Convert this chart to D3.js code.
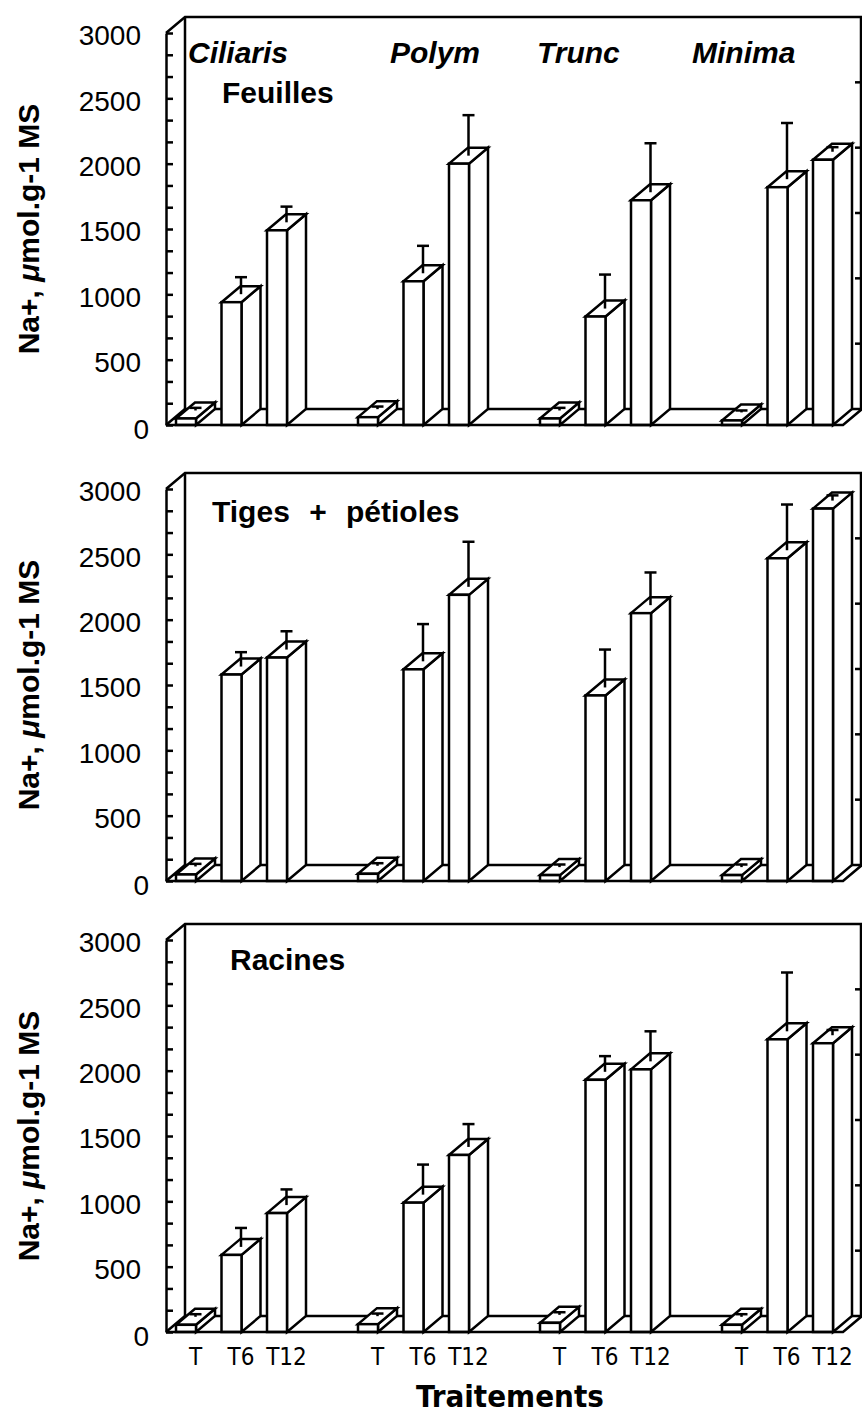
<!DOCTYPE html>
<html>
<head>
<meta charset="utf-8">
<script src="https://cdn.jsdelivr.net/npm/d3@7"></script>
<style>
  body { margin: 0; background: #fff; }
  svg { display: block; }
  .axis path, .axis line { stroke: #000; stroke-width: 2.5; }
  .axis text { font-family: "Liberation Sans", Arial, sans-serif; font-size: 28px; fill: #000; }
  .frame { stroke: #000; stroke-width: 2.5; fill: none; }
  .bar { stroke: #000; stroke-width: 2.5; fill: #fff; stroke-linejoin: miter; }
  .err { stroke: #000; stroke-width: 2.5; }
</style>
</head>
<body>
<script>
var species = ['Ciliaris', 'Polym', 'Trunc', 'Minima']
var treatments = ['T', 'T6', 'T12']
var organs = ['Feuilles', 'Tiges + pétioles', 'Racines']

// Na+ (µmol/g MS), one row per species, columns T, T6, T12
var feuillesMean = [[50, 940, 1490], [60, 1100, 2000], [50, 830, 1720], [35, 1820, 2030]]
var feuillesErr  = [[20, 130, 120], [20, 210, 310], [20, 260, 375], [15, 430, 35]]

var tigesMean = [[50, 1580, 1710], [55, 1620, 2190], [45, 1420, 2050], [45, 2470, 2850]]
var tigesErr  = [[20, 110, 140], [20, 285, 345], [20, 290, 250], [20, 350, 40]]

var racinesMean = [[55, 590, 910], [60, 990, 1355], [70, 1930, 2010], [55, 2240, 2210]]
var racinesErr  = [[20, 145, 120], [20, 230, 175], [20, 120, 230], [20, 450, 40]]

var yTicks = [0, 500, 1000, 1500, 2000, 2500, 3000]
var speciesLabelX = [188, 390, 537, 692]

var width = 862, height = 1422
var bases = [425, 881, 1332]
var plotH = 392
var dx = 19, dy = 16
var barW = 20
var axisX = 166, rightX = 862

var meansByOrgan = [feuillesMean, tigesMean, racinesMean]
var errByOrgan = [feuillesErr, tigesErr, racinesErr]

var svg = d3.select('body')
    .append('svg')
    .attr('width', width)
    .attr('height', height)

var x0 = d3.scaleBand()
    .domain(species)
    .range([176, 176 + 4 * 182])

var x1 = d3.scaleBand()
    .domain(treatments)
    .range([0, 136.5])

organs.forEach(function (organ, i) {
    var base = bases[i]
    var y = d3.scaleLinear()
        .domain([0, 3000])
        .range([base, base - plotH])

    var g = svg.append('g')

    // back walls + floor
    var top = y(3000)
    g.append('path').attr('class', 'frame')
        .attr('d', 'M' + axisX + ',' + top + 'L' + (axisX + dx) + ',' + (top - dy) +
              'L' + rightX + ',' + (top - dy))
    g.append('path').attr('class', 'frame')
        .attr('d', 'M' + (axisX + dx) + ',' + (top - dy) + 'L' + (axisX + dx) + ',' + (base - dy) +
              'L' + rightX + ',' + (base - dy))
    g.append('path').attr('class', 'frame')
        .attr('d', 'M' + axisX + ',' + base + 'L' + (axisX + dx) + ',' + (base - dy))
    g.append('path').attr('class', 'frame')
        .attr('d', 'M' + (rightX - 1) + ',' + (base - dy) + 'L' + (rightX - 1) + ',' + (top - dy))

    // ticks on the right back edge
    yTicks.slice(1, 6).forEach(function (v) {
        g.append('line').attr('class', 'frame')
            .attr('x1', rightX - 7).attr('x2', rightX)
            .attr('y1', y(v) - dy).attr('y2', y(v) - dy)
    })

    var bars = []
    species.forEach(function (s, si) {
        treatments.forEach(function (t, ti) {
            bars.push({ s: s, t: t, v: meansByOrgan[i][si][ti], e: errByOrgan[i][si][ti] })
        })
    })

    var bar = g.selectAll('g.b')
        .data(bars)
        .enter().append('g')
        .attr('class', 'b')

    bar.each(function (d) {
        var b = d3.select(this)
        var xl = x0(d.s) + x1(d.t), xr = xl + barW
        var yt = y(d.v), yb = y(0)
        b.append('polygon').attr('class', 'bar')
            .attr('points', [[xr, yb], [xr + dx, yb - dy], [xr + dx, yt - dy], [xr, yt]].join(' '))
        b.append('polygon').attr('class', 'bar')
            .attr('points', [[xl, yt], [xl + dx, yt - dy], [xr + dx, yt - dy], [xr, yt]].join(' '))
        b.append('rect').attr('class', 'bar')
            .attr('x', xl).attr('y', yt)
            .attr('width', barW).attr('height', yb - yt)

        var cx = xl + barW / 2 + dx / 2
        var cy = yt - dy / 2
        var ey = y(d.v + d.e) - dy / 2
        b.append('line').attr('class', 'err')
            .attr('x1', cx).attr('x2', cx).attr('y1', cy).attr('y2', ey)
        b.append('line').attr('class', 'err')
            .attr('x1', cx - 6).attr('x2', cx + 6).attr('y1', ey).attr('y2', ey)
    })

    // front floor edge
    g.append('path').attr('class', 'frame')
        .attr('d', 'M' + axisX + ',' + base + 'L' + (rightX - dx) + ',' + base +
              'L' + rightX + ',' + (base - dy))

    // front value axis, ticks pointing inwards
    var axis = d3.axisLeft(y)
        .tickValues(d3.range(0, 19).map(function (k) { return k * 500 / 3 }))
        .tickSizeInner(-7)
        .tickSizeOuter(0)
        .tickPadding(25)
        .tickFormat(function (d) { return yTicks.indexOf(d) >= 0 ? d3.format('d')(d) : '' })

    g.append('g')
        .attr('class', 'axis')
        .attr('transform', 'translate(' + axisX + ',0)')
        .call(axis)
        .selectAll('text')
        .attr('transform', function (d) { return d === 0 ? 'translate(8,5)' : 'translate(0,3)' })

    // y title
    var title = g.append('text')
        .attr('transform', 'translate(39,' + (base - 196) + ') rotate(-90)')
        .attr('text-anchor', 'middle')
        .style('font-family', '"Liberation Sans", Arial, sans-serif')
        .style('font-size', '30px')
        .style('font-weight', 'bold')
    title.append('tspan').text('Na+, ')
    title.append('tspan').style('font-style', 'italic').text('μ')
    title.append('tspan').text('mol.g-1 MS')

    // organ label
    var organPos = [[222, base - 322], [212, base - 359], [230, base - 362]][i]
    g.append('text')
        .attr('x', organPos[0]).attr('y', organPos[1])
        .style('font-family', '"Liberation Sans", Arial, sans-serif')
        .style('font-size', '30px')
        .style('font-weight', 'bold')
        .style('word-spacing', '11px')
        .text(organ)

    if (i === 0) {
        g.selectAll('text.sp')
            .data(species)
            .enter().append('text')
            .attr('class', 'sp')
            .attr('x', function (d, k) { return speciesLabelX[k] })
            .attr('y', base - 362)
            .style('font-family', '"Liberation Sans", Arial, sans-serif')
            .style('font-size', '30px')
            .style('font-weight', 'bold')
            .style('font-style', 'italic')
            .text(function (d) { return d })
    }

    if (i === 2) {
        var labs = []
        species.forEach(function (s) {
            treatments.forEach(function (t) { labs.push({ s: s, t: t }) })
        })
        g.selectAll('text.tr')
            .data(labs)
            .enter().append('text')
            .attr('class', 'tr')
            .attr('x', function (d) { return x0(d.s) + x1(d.t) + (barW + dx) / 2 })
            .attr('y', base + 33)
            .attr('text-anchor', 'middle')
            .style('font-family', '"DejaVu Sans Condensed", "Liberation Sans Narrow", sans-serif')
            .style('font-size', '24px')
            .style('font-stretch', 'condensed')
            .text(function (d) { return d.t })

        g.append('text')
            .attr('x', 510).attr('y', base + 75)
            .attr('text-anchor', 'middle')
            .style('font-family', '"DejaVu Sans Condensed", "Liberation Sans Narrow", sans-serif')
            .style('font-size', '31px')
            .style('font-weight', 'bold')
            .style('font-stretch', 'condensed')
            .text('Traitements')
    }
})
</script>
</body>
</html>
